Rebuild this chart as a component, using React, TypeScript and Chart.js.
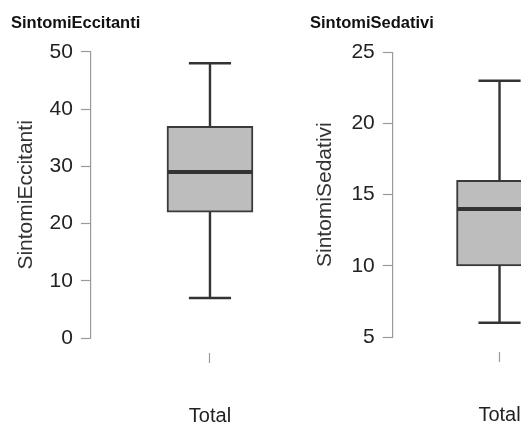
import React, { useEffect, useRef } from 'react';
import { Chart, registerables } from 'chart.js';

Chart.register(...registerables);

const FONT = '"Liberation Sans", Arial, Helvetica, sans-serif';

const groups = ['Total'];

// SintomiEccitanti five-number summary
const eccitantiMin = [7];
const eccitantiQ1 = [22];
const eccitantiMedian = [29];
const eccitantiQ3 = [37];
const eccitantiMax = [48];
const eccitantiTicks = [0, 10, 20, 30, 40, 50];

// SintomiSedativi five-number summary
const sedativiMin = [6];
const sedativiQ1 = [10];
const sedativiMedian = [14];
const sedativiQ3 = [16];
const sedativiMax = [23];
const sedativiTicks = [5, 10, 15, 20, 25];

type Stats = {
  min: number[];
  q1: number[];
  median: number[];
  q3: number[];
  max: number[];
};

// Draws whiskers, caps and the median line on top of the floating-bar box.
const boxWhiskers = {
  id: 'boxWhiskers',
  afterDatasetsDraw(chart: any, _args: any, opts: any) {
    const { ctx } = chart;
    const xs = chart.scales.x;
    const ys = chart.scales.y;
    const meta = chart.getDatasetMeta(0);
    const s: Stats = opts.stats;
    if (!s) return;
    ctx.save();
    ctx.strokeStyle = '#333333';
    ctx.lineCap = 'butt';
    s.median.forEach((m, i) => {
      const cx = xs.getPixelForValue(i);
      const half = meta.data[i].width / 2;
      const capHalf = half * 0.49;
      const yMin = ys.getPixelForValue(s.min[i]);
      const yMax = ys.getPixelForValue(s.max[i]);
      const yQ1 = ys.getPixelForValue(s.q1[i]);
      const yQ3 = ys.getPixelForValue(s.q3[i]);
      ctx.lineWidth = 2.4;
      ctx.beginPath();
      ctx.moveTo(cx, yQ3);
      ctx.lineTo(cx, yMax);
      ctx.moveTo(cx, yQ1);
      ctx.lineTo(cx, yMin);
      ctx.moveTo(cx - capHalf, yMax);
      ctx.lineTo(cx + capHalf, yMax);
      ctx.moveTo(cx - capHalf, yMin);
      ctx.lineTo(cx + capHalf, yMin);
      ctx.stroke();
      const yMed = ys.getPixelForValue(m);
      ctx.lineWidth = 4;
      ctx.beginPath();
      ctx.moveTo(cx - half + 1, yMed);
      ctx.lineTo(cx + half - 1, yMed);
      ctx.stroke();
    });
    ctx.restore();
  },
};

type PanelProps = {
  title: string;
  stats: Stats;
  ticks: number[];
  width: number;
  left: number;
  padLeft: number;
  padRight: number;
  padBottom: number;
  titleBottom: number;
  yTitleBottom: number;
};

function BoxPanel(props: PanelProps) {
  const ref = useRef<HTMLCanvasElement | null>(null);

  useEffect(() => {
    const canvas = ref.current;
    if (!canvas) return;
    const { stats, ticks } = props;
    const chart = new Chart(canvas, {
      type: 'bar',
      data: {
        labels: groups,
        datasets: [
          {
            data: groups.map((_, i) => [stats.q1[i], stats.q3[i]]) as any,
            backgroundColor: '#bdbdbd',
            borderColor: '#3a3a3a',
            borderWidth: 2,
            borderSkipped: false,
            barThickness: 86,
          },
        ],
      },
      options: {
        responsive: false,
        animation: false,
        layout: {
          padding: { left: props.padLeft, right: props.padRight, top: 0, bottom: props.padBottom },
        },
        plugins: {
          legend: { display: false },
          tooltip: { enabled: false },
          title: {
            display: true,
            text: props.title,
            align: 'start',
            color: '#111111',
            font: { family: FONT, size: 16.5, weight: 'bold' },
            padding: { top: 14, bottom: props.titleBottom },
          },
          boxWhiskers: { stats },
        } as any,
        scales: {
          x: {
            type: 'category',
            offset: true,
            border: { display: false },
            grid: {
              offset: false,
              drawOnChartArea: false,
              drawTicks: true,
              tickLength: 66,
              tickColor: '#9a9a9a',
              tickWidth: 1.2,
              tickBorderDash: [0, 15, 10, 200],
            } as any,
            ticks: {
              color: '#222222',
              padding: 0,
              font: { family: FONT, size: 20 },
            },
          },
          y: {
            type: 'linear',
            min: ticks[0],
            max: ticks[ticks.length - 1],
            afterBuildTicks: (axis: any) => {
              axis.ticks = ticks.map((v) => ({ value: v }));
            },
            border: { display: true, color: '#9a9a9a', width: 1.2 },
            grid: {
              drawOnChartArea: false,
              drawTicks: true,
              tickLength: 10,
              tickColor: '#9a9a9a',
              tickWidth: 1.2,
            },
            ticks: {
              color: '#222222',
              padding: 8,
              font: { family: FONT, size: 21 },
            },
            title: {
              display: true,
              text: props.title,
              color: '#333333',
              font: { family: FONT, size: 21 },
              padding: { top: 3, bottom: props.yTitleBottom },
            },
          },
        },
      },
      plugins: [boxWhiskers],
    });
    return () => chart.destroy();
  }, []);

  return (
    <canvas
      ref={ref}
      width={props.width}
      height={427}
      style={{ position: 'absolute', left: props.left, top: 0, display: 'block' }}
    />
  );
}

export default function App() {
  return (
    <div
      style={{
        position: 'fixed',
        left: 0,
        top: 0,
        width: 521,
        height: 427,
        overflow: 'hidden',
        background: '#ffffff',
      }}
    >
      <BoxPanel
        title="SintomiEccitanti"
        stats={{
          min: eccitantiMin,
          q1: eccitantiQ1,
          median: eccitantiMedian,
          q3: eccitantiQ3,
          max: eccitantiMax,
        }}
        ticks={eccitantiTicks}
        width={340}
        left={0}
        padLeft={11}
        padRight={11}
        padBottom={-1}
        titleBottom={18}
        yTitleBottom={2.4}
      />
      <BoxPanel
        title="SintomiSedativi"
        stats={{
          min: sedativiMin,
          q1: sedativiQ1,
          median: sedativiMedian,
          q3: sedativiQ3,
          max: sedativiMax,
        }}
        ticks={sedativiTicks}
        width={360}
        left={260}
        padLeft={50}
        padRight={13.7}
        padBottom={0}
        titleBottom={18.5}
        yTitleBottom={5.2}
      />
    </div>
  );
}
